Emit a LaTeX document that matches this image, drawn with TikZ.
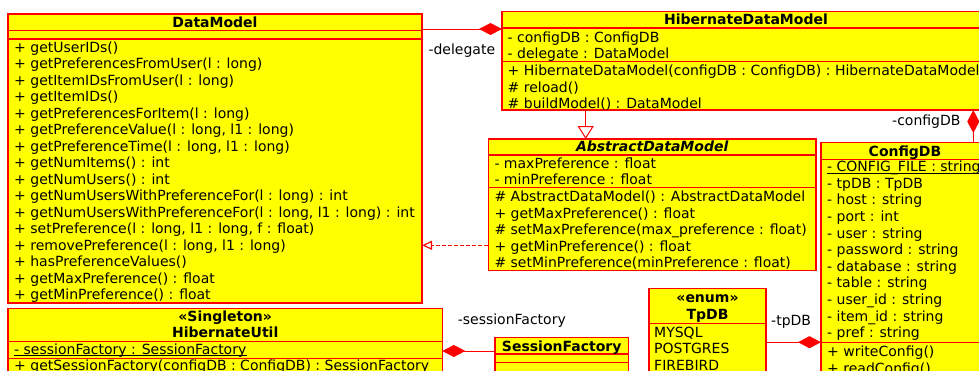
\documentclass[tikz,border=0pt]{standalone}
\usepackage{fontspec}
\setmainfont{DejaVu Sans}
\usetikzlibrary{arrows.meta}
\definecolor{umlred}{RGB}{255,0,0}
\definecolor{umlyellow}{RGB}{255,255,0}
\begin{document}
\begin{tikzpicture}[x=1pt,y=-1pt,
  classbox/.style={draw=umlred, fill=umlyellow, line width=1.1pt, inner sep=0pt, outer sep=0pt, anchor=north west},
  sepline/.style={draw=umlred, line width=1.1pt},
  txt/.style={inner sep=0pt, anchor=base west, font=\fontsize{14}{16.5}\selectfont},
  ttl/.style={inner sep=0pt, anchor=base, font=\fontsize{14}{16.5}\selectfont\bfseries},
  uline/.style={draw=black, line width=0.9pt},
  conn/.style={color=umlred, draw=umlred, line width=1pt},
  compo/.style={conn, {Diamond[length=23pt,width=12pt,fill=umlred]}-},
  gener/.style={conn, -{Triangle[open,length=13pt,width=16pt,fill=white]}},
  realiz/.style={conn, line width=1.2pt, dash pattern=on 4pt off 2pt, -{Triangle[open,length=10pt,width=9pt,fill=white]}}
]
\clip (0,0) rectangle (979,370);
\fill[white] (0,0) rectangle (979,370);

% ---------- DataModel ----------
\node[classbox, minimum width=414pt, minimum height=289pt] (dm) at (8,14) {};
\draw[sepline] (8,30.7) -- (422,30.7);
\draw[sepline] (8,39) -- (422,39);
\node[ttl] (dmt) at (215,27.3) {DataModel};
\foreach \t [count=\i] in {
  {+ getUserIDs()},
  {+ getPreferencesFromUser(l : long)},
  {+ getItemIDsFromUser(l : long)},
  {+ getItemIDs()},
  {+ getPreferencesForItem(l : long)},
  {+ getPreferenceValue(l : long, l1 : long)},
  {+ getPreferenceTime(l : long, l1 : long)},
  {+ getNumItems() : int},
  {+ getNumUsers() : int},
  {+ getNumUsersWithPreferenceFor(l : long) : int},
  {+ getNumUsersWithPreferenceFor(l : long, l1 : long) : int},
  {+ setPreference(l : long, l1 : long, f : float)},
  {+ removePreference(l : long, l1 : long)},
  {+ hasPreferenceValues()},
  {+ getMaxPreference() : float},
  {+ getMinPreference() : float}}
  \node[txt] (dmop\i) at (14,{52.3+(\i-1)*16.5}) {\t};

% ---------- HibernateDataModel ----------
\node[classbox, minimum width=488pt, minimum height=98.3pt] (hdm) at (502,11.7) {};
\draw[sepline] (502,28) -- (990,28);
\draw[sepline] (502,61.7) -- (990,61.7);
\node[ttl] (hdmt) at (746,24.3) {HibernateDataModel};
\node[txt] (hdma1) at (507.5,42.3) {- configDB : ConfigDB};
\node[txt] (hdma2) at (507.5,58.8) {- delegate : DataModel};
\node[txt] (hdmo1) at (507.5,75.7) {+ HibernateDataModel(configDB : ConfigDB) : HibernateDataModel};
\node[txt] (hdmo2) at (507.5,92.2) {\# reload()};
\node[txt] (hdmo3) at (507.5,108.7) {\# buildModel() : DataModel};

% ---------- AbstractDataModel ----------
\node[classbox, minimum width=327.7pt, minimum height=131.7pt] (adm) at (488.3,139) {};
\draw[sepline] (488.3,155) -- (816,155);
\draw[sepline] (488.3,187.7) -- (816,187.7);
\node[ttl, font=\fontsize{14}{16.5}\selectfont\bfseries\itshape] (admt) at (652.2,151.7) {AbstractDataModel};
\node[txt] (adma1) at (494.3,168.3) {- maxPreference : float};
\node[txt] (adma2) at (494.3,184.8) {- minPreference : float};
\foreach \t [count=\i] in {
  {\# AbstractDataModel() : AbstractDataModel},
  {+ getMaxPreference() : float},
  {\# setMaxPreference(max\_preference : float)},
  {+ getMinPreference() : float},
  {\# setMinPreference(minPreference : float)}}
  \node[txt] (admo\i) at (494.3,{201.7+(\i-1)*16.5}) {\t};

% ---------- ConfigDB ----------
\node[classbox, minimum width=168pt, minimum height=240pt] (cdb) at (821,142.7) {};
\draw[sepline] (821,159.3) -- (989,159.3);
\draw[sepline] (821,342.5) -- (989,342.5);
\node[ttl] (cdbt) at (905,156) {ConfigDB};
\foreach \t [count=\i] in {
  {- CONFIG\_FILE : string},
  {- tpDB : TpDB},
  {- host : string},
  {- port : int},
  {- user : string},
  {- password : string},
  {- database : string},
  {- table : string},
  {- user\_id : string},
  {- item\_id : string},
  {- pref : string}}
  \node[txt] (cdba\i) at (827,{171.7+(\i-1)*16.6}) {\t};
\draw[uline] ([yshift=-1.8pt]cdba1.base west) -- ([yshift=-1.8pt,xshift=30pt]cdba1.base east);
\node[txt] (cdbo1) at (827,356.5) {+ writeConfig()};
\node[txt] (cdbo2) at (827,373) {+ readConfig()};

% ---------- HibernateUtil ----------
\node[classbox, minimum width=434.3pt, minimum height=80pt] (hu) at (8,308.3) {};
\draw[sepline] (8,341.7) -- (442.3,341.7);
\draw[sepline] (8,358.3) -- (442.3,358.3);
\node[ttl] (hus) at (225.2,321.5) {«Singleton»};
\node[ttl] (hut) at (225.2,337.5) {HibernateUtil};
\node[txt] (hua1) at (14,354) {- sessionFactory : SessionFactory};
\draw[uline] ([yshift=-1.8pt]hua1.base west) -- ([yshift=-1.8pt]hua1.base east);
\node[txt] (huo1) at (14,370.5) {+ getSessionFactory(configDB : ConfigDB) : SessionFactory};

% ---------- SessionFactory ----------
\node[classbox, minimum width=133.3pt, minimum height=50pt] (sf) at (495,337.7) {};
\draw[sepline] (495,354) -- (628.3,354);
\draw[sepline] (495,362.7) -- (628.3,362.7);
\node[ttl] (sft) at (561.7,351) {SessionFactory};

% ---------- TpDB ----------
\node[classbox, minimum width=117pt, minimum height=100pt] (tp) at (649,288.5) {};
\draw[sepline] (649,323.3) -- (766,323.3);
\node[ttl] (tps) at (707.5,302) {«enum»};
\node[ttl] (tpt) at (707.5,319) {TpDB};
\node[txt] (tp1) at (654,337) {MYSQL};
\node[txt] (tp2) at (654,353.5) {POSTGRES};
\node[txt] (tp3) at (654,370) {FIREBIRD};

% ---------- connectors ----------
\draw[compo] (hdm.west |- 0,29) -- (dm.east |- 0,29);
\draw[gener] (hdm.south -| 585.7,0) -- (adm.north -| 585.7,0);
\draw[realiz] (adm.west |- 0,245.3) -- (dm.east |- 0,245.3);
\draw[compo] (hdm.south -| 973.3,0) -- (cdb.north -| 973.3,0);
\draw[compo] (hu.east |- 0,351) -- (sf.west |- 0,351);
\draw[compo] (cdb.west |- 0,342.2) -- (tp.east |- 0,342.2);

% ---------- labels ----------
\node[txt] (l1) at (428.3,54) {-delegate};
\node[txt] (l2) at (892,125.7) {-configDB};
\node[txt] (l3) at (457.6,324.3) {-sessionFactory};
\node[txt] (l4) at (771,325) {-tpDB};
\end{tikzpicture}
\end{document}
